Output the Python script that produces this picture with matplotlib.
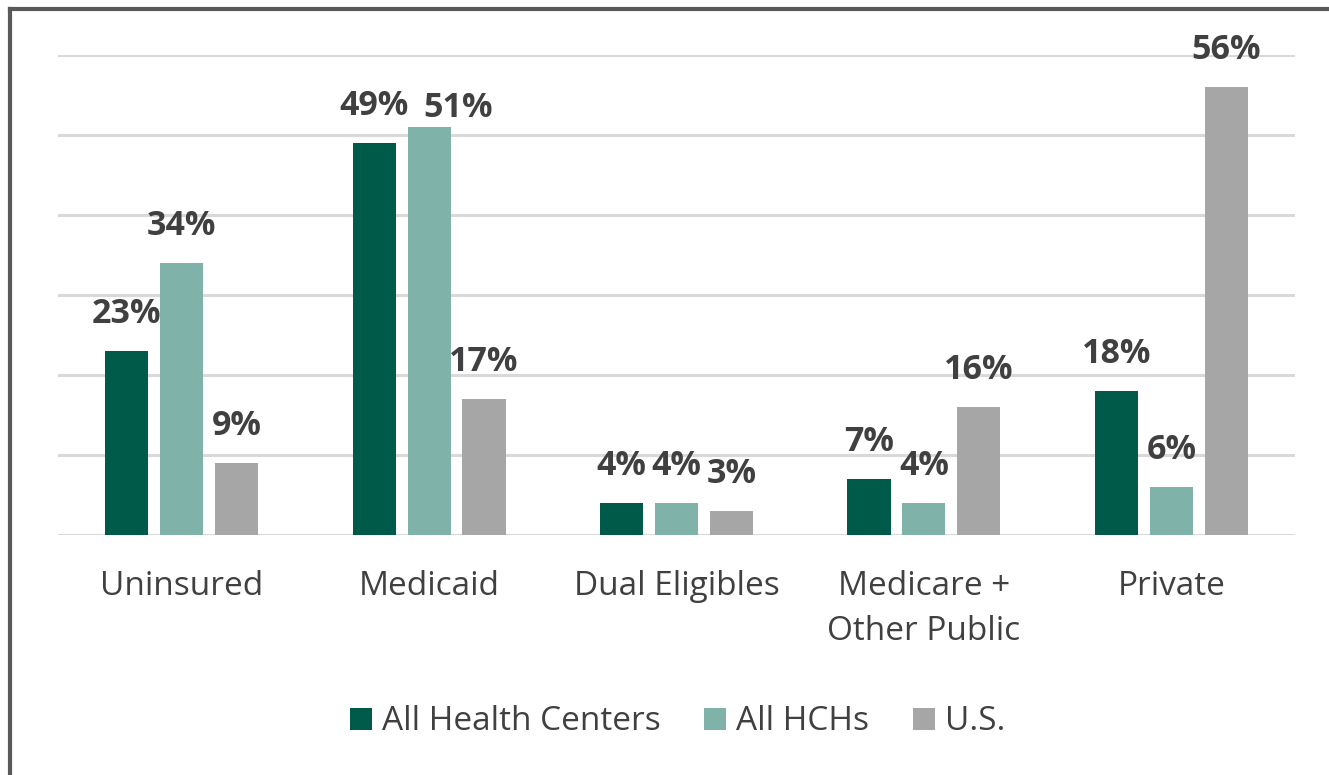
import matplotlib
matplotlib.use('Agg')
import matplotlib.pyplot as plt
from matplotlib.lines import Line2D
import numpy as np

categories = ["Uninsured", "Medicaid", "Dual Eligibles", "Medicare +\nOther Public", "Private"]
series_names = ["All Health Centers", "All HCHs", "U.S."]
health_centers = [23, 49, 4, 7, 18]
all_hchs = [34, 51, 4, 4, 6]
us = [9, 17, 3, 16, 56]
colors = ["#005A4A", "#7FB2A8", "#A6A6A6"]

plt.rcParams['font.family'] = ['Open Sans', 'DejaVu Sans']
text_color = "#404040"

# labels moved by hand in the original (series, category) -> offset in points
label_shift = {(1, 1): (21, -13)}

W, H = 1329, 775
fig = plt.figure(figsize=(W / 100, H / 100), dpi=100)
ax = fig.add_axes([58 / W, 1 - 535 / H, (1295 - 58) / W, (535 - 55) / H])

x = np.arange(len(categories))
width = 0.174
step = 0.222
for i, (vals, name, col) in enumerate(zip([health_centers, all_hchs, us], series_names, colors)):
    pos = x + (i - 1) * step
    ax.bar(pos, vals, width, color=col, label=name, zorder=3)
    for j, (px, v) in enumerate(zip(pos, vals)):
        dx, dy = label_shift.get((i, j), (0, 0))
        ax.annotate(f"{v}%", (px, v), xytext=(dx, 20 + dy), textcoords="offset points",
                    ha="center", va="baseline", fontsize=24.5, fontweight="bold",
                    color=text_color, zorder=4)

ax.set_xlim(-0.5, len(categories) - 0.5)
ax.set_ylim(0, 60)
ax.set_yticks(np.arange(0, 61, 10))
ax.yaxis.grid(True, color="#D9D9D9", linewidth=2.2, zorder=0)
ax.set_yticklabels([])
ax.tick_params(axis="y", length=0)
ax.set_xticks(x)
ax.set_xticklabels(categories, fontsize=24, color=text_color, linespacing=1.5)
ax.tick_params(axis="x", length=0, pad=25)
for s in ax.spines.values():
    s.set_visible(False)

fig.legend(loc="center", bbox_to_anchor=(0.51, 1 - 722 / H), ncol=3, frameon=False,
           fontsize=24, labelcolor=text_color, handlelength=0.66, handleheight=0.66,
           handletextpad=0.3, columnspacing=1.3)

# frame lines on top and left (image is cropped)
fig.add_artist(Line2D([10 / W, 1], [1 - 9 / H, 1 - 9 / H], transform=fig.transFigure,
                      color="#595959", linewidth=3))
fig.add_artist(Line2D([10 / W, 10 / W], [0, 1 - 9 / H], transform=fig.transFigure,
                      color="#595959", linewidth=3))

fig.savefig("out.png", dpi=100)
